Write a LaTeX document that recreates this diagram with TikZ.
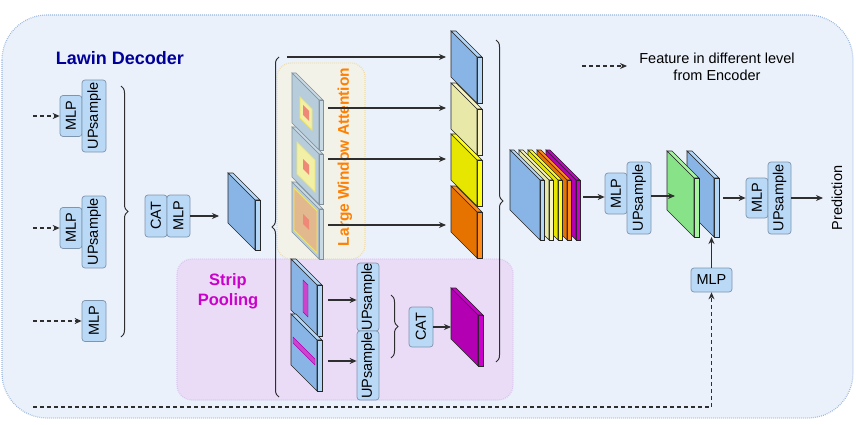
\documentclass[tikz,border=0pt]{standalone}
\usepackage{fontspec}
\setmainfont{Liberation Sans}
\usepackage{tikz}
\usetikzlibrary{arrows.meta,calc,positioning,decorations.pathreplacing}

\definecolor{outerfill}{HTML}{EAF1FB}
\definecolor{outerline}{HTML}{9BB7DF}
\definecolor{lwafill}{HTML}{F3F2E9}
\definecolor{lwaline}{HTML}{F0DCA8}
\definecolor{spfill}{HTML}{EADCF7}
\definecolor{spline}{HTML}{D8C4EE}
\definecolor{boxfill}{HTML}{B9D9F7}
\definecolor{boxline}{HTML}{7F95AD}
\definecolor{fmblue}{HTML}{88B5E5}
\definecolor{fmblueside}{HTML}{B4D6F7}
\definecolor{lwaplate}{HTML}{B7CDDB}
\definecolor{lwaplateside}{HTML}{C9DAE5}
\definecolor{lwaplateline}{HTML}{7F8F9B}
\definecolor{winyel}{HTML}{F2EFA6}
\definecolor{winline}{HTML}{EDE46C}
\definecolor{wintan}{HTML}{E2B98E}
\definecolor{winred}{HTML}{F08877}
\definecolor{palyel}{HTML}{E8E8A8}
\definecolor{palyelside}{HTML}{F7F4C0}
\definecolor{yel}{HTML}{E6E600}
\definecolor{yelside}{HTML}{FFFF1A}
\definecolor{org}{HTML}{E67300}
\definecolor{orgside}{HTML}{FF8C1A}
\definecolor{mag}{HTML}{B300B3}
\definecolor{magside}{HTML}{CC00CC}
\definecolor{grn}{HTML}{88E388}
\definecolor{grnside}{HTML}{A8F5A0}
\definecolor{stripbar}{HTML}{CC44CC}
\definecolor{navy}{HTML}{000099}
\definecolor{lwatext}{HTML}{FF8000}
\definecolor{sptext}{HTML}{CC00CC}
\definecolor{arrowc}{HTML}{2E2E2E}

\newcommand{\blkfont}{\fontsize{14.5}{16}\selectfont}
% slanted feature map: [line] x, y, width, height, depth, front, side
\newcommand{\slab}[8][black!85]{%
  \begin{scope}[shift={(#2,#3)}, yslant=-1]
    \filldraw[fill=#8, draw=#1, line width=0.6pt] (0,0) -- (#6,-#6) -- ({#4+#6},-#6) -- (#4,0) -- cycle;
    \filldraw[fill=#8, draw=#1, line width=0.6pt] (#4,0) -- ({#4+#6},-#6) -- ({#4+#6},{#5-#6}) -- (#4,#5) -- cycle;
    \filldraw[fill=#7, draw=#1, line width=0.6pt] (0,0) rectangle (#4,#5);
  \end{scope}}

\tikzset{
  blk/.style={draw=boxline, fill=boxfill, rounded corners=3pt, line width=0.7pt, inner sep=0pt, font=\blkfont},
  vblk/.style 2 args={blk, rotate=90, minimum width=#1, minimum height=#2},
  arr/.style={-{Stealth[length=7pt,width=6pt]}, line width=1.1pt, draw=arrowc},
  encarr/.style={arr, dash pattern=on 4pt off 3pt},
  brc/.style={decorate, decoration={brace, amplitude=7pt}, line width=1pt, draw=arrowc},
}

\begin{document}
\begin{tikzpicture}[x=1pt, y=-1pt]
  \useasboundingbox (0,0) rectangle (856,425);
  % regions
  \draw[outerline, fill=outerfill, line width=1.2pt, dash pattern=on 0.8pt off 1.2pt, rounded corners=45pt] (2,15) rectangle (853,418);
  \draw[spline, fill=spfill, line width=1.2pt, dash pattern=on 0.8pt off 1.2pt, rounded corners=15pt] (177,259) rectangle (513,400);
  \draw[lwaline, fill=lwafill, line width=1.2pt, dash pattern=on 0.8pt off 1.2pt, rounded corners=14pt] (277,63) rectangle (365,259);

  % titles and legend
  \node[font=\bfseries\fontsize{18}{20}\selectfont, text=navy] (title) at (120,58) {Lawin Decoder};
  \node[rotate=90, font=\bfseries\fontsize{15.5}{17}\selectfont, text=lwatext] (lwatitle) at (345,157) {Large Window Attention};
  \node[align=center, font=\bfseries\fontsize{16.5}{20}\selectfont, text=sptext] (sptitle) at (228,291) {Strip\\Pooling};
  \coordinate (lgs) at (582,66);
  \coordinate (lge) at (627,66);
  \draw[encarr] (lgs) -- (lge);
  \node[align=center, font=\fontsize{14.5}{17}\selectfont] (legend) at (717,67) {Feature in different level\\from Encoder};

  % encoder inputs
  \node[vblk={41pt}{22pt}] (mlpa) at (71,116) {MLP};
  \node[vblk={72pt}{24pt}] (upsa) at (94,116) {UPsample};
  \node[vblk={41pt}{22pt}] (mlpb) at (71,228) {MLP};
  \node[vblk={72pt}{24pt}] (upsb) at (94,232) {UPsample};
  \node[vblk={41pt}{24pt}] (mlpc) at (94,321) {MLP};
  \coordinate (enca) at (33,116);
  \coordinate (encb) at (33,228);
  \coordinate (encc) at (33,321);
  \draw[encarr] (enca) -- (mlpa);
  \draw[encarr] (encb) -- (mlpb);
  \draw[encarr] (encc) -- (mlpc);
  \draw[brc] (121,86) -- (121,337);

  % fused map
  \node[vblk={42pt}{22pt}] (cata) at (156,216) {CAT};
  \node[vblk={42pt}{23pt}] (mlpd) at (178.5,216) {MLP};
  \coordinate (fmin) at (219,216);
  \draw[arr] (mlpd) -- (fmin);
  \slab{228}{173}{27}{50}{5}{fmblue}{fmblueside}
  \draw[brc] (279,397) -- (279,57);

  % large window attention
  \foreach \yy/\fa/\fb/\fc/\fd/\wf in {73/8/16/20/37/winyel, 127/5/10/23/42/winyel, 182/2/4/25/46/wintan} {
    \slab[lwaplateline]{292}{\yy}{27}{50}{4}{lwaplate}{lwaplateside}
    \begin{scope}[shift={(292,\yy)}, yslant=-1]
      \filldraw[fill=\wf, draw=winline, line width=0.8pt] (\fa,\fb) rectangle (\fc,\fd);
      \fill[winred] (11,21) rectangle (17,31);
    \end{scope}
  }

  % branch outputs
  \foreach \yy/\cf/\cs in {31/fmblue/fmblueside, 83/palyel/palyelside, 134/yel/yelside, 186/org/orgside}
    \slab{451}{\yy}{26}{46}{5}{\cf}{\cs};
  \slab{451}{288}{27}{51}{5}{mag}{magside}
  \coordinate (top0) at (287,57);
  \coordinate (lwa1) at (328,108);
  \coordinate (lwa2) at (328,159);
  \coordinate (lwa3) at (328,225);
  \coordinate (outx) at (446,57);
  \draw[arr] (top0) -- (top0 -| outx);
  \draw[arr] (lwa1) -- (lwa1 -| outx);
  \draw[arr] (lwa2) -- (lwa2 -| outx);
  \draw[arr] (lwa3) -- (lwa3 -| outx);

  % strip pooling
  \slab{291}{259}{26}{51}{5}{fmblue}{fmblueside}
  \slab{291}{314}{26}{51}{5}{fmblue}{fmblueside}
  \begin{scope}[shift={(291,259)}, yslant=-1]
    \filldraw[fill=stripbar, draw=mag, line width=0.4pt] (12,9) rectangle (17,41);
  \end{scope}
  \begin{scope}[shift={(291,314)}, yslant=-1]
    \filldraw[fill=stripbar, draw=mag, line width=0.4pt] (2,21) rectangle (24,27);
  \end{scope}
  \node[vblk={68pt}{22pt}] (upsc) at (368,297) {UPsample};
  \node[vblk={69pt}{22pt}] (upsd) at (368,365.5) {UPsample};
  \coordinate (sp1) at (328,300);
  \coordinate (sp2) at (328,361);
  \draw[arr] (sp1) -- (sp1 -| upsc.north);
  \draw[arr] (sp2) -- (sp2 -| upsd.north);
  \draw[brc] (391,295) -- (391,358);
  \node[vblk={40pt}{24pt}] (catb) at (421,327) {CAT};
  \coordinate (magin) at (451,327);
  \draw[arr] (catb) -- (magin);
  \draw[brc] (496,40) -- (496,362);

  % concatenation and head
  \foreach \xx/\cf/\cs in {546/mag/magside, 537/org/orgside, 528/yel/yelside, 519/palyel/palyelside, 510/fmblue/fmblueside}
    \slab{\xx}{150}{30}{60}{4}{\cf}{\cs};
  \node[vblk={41pt}{22pt}] (mlpe) at (616,193.5) {MLP};
  \node[vblk={72pt}{24pt}] (upse) at (639,198) {UPsample};
  \coordinate (stout) at (583,197);
  \draw[arr] (stout) -- (stout -| mlpe.north);
  \slab{687}{151}{27}{59}{5}{fmblue}{fmblueside}
  \slab{667}{151}{27}{59}{5}{grn}{grnside}
  \coordinate (grnin) at (675,196);
  \draw[arr] (upse.south |- grnin) -- (grnin);
  \node[vblk={40pt}{22pt}] (mlpf) at (757,198) {MLP};
  \node[vblk={72pt}{23pt}] (upsf) at (779.5,198) {UPsample};
  \coordinate (fuse) at (723,198);
  \draw[arr] (fuse) -- (mlpf);
  \node[rotate=90, font=\blkfont] (pred) at (837,198) {Prediction};
  \coordinate (predin) at (823,198);
  \draw[arr] (upsf) -- (predin);

  % encoder skip
  \node[blk, minimum width=41pt, minimum height=24pt] (mlpg) at (711.5,280) {MLP};
  \coordinate (fusein) at (711.5,237);
  \draw[arr] (mlpg) -- (fusein);
  \coordinate (encd) at (33,407);
  \draw[encarr] (encd) -| (mlpg.south);
\end{tikzpicture}
\end{document}
